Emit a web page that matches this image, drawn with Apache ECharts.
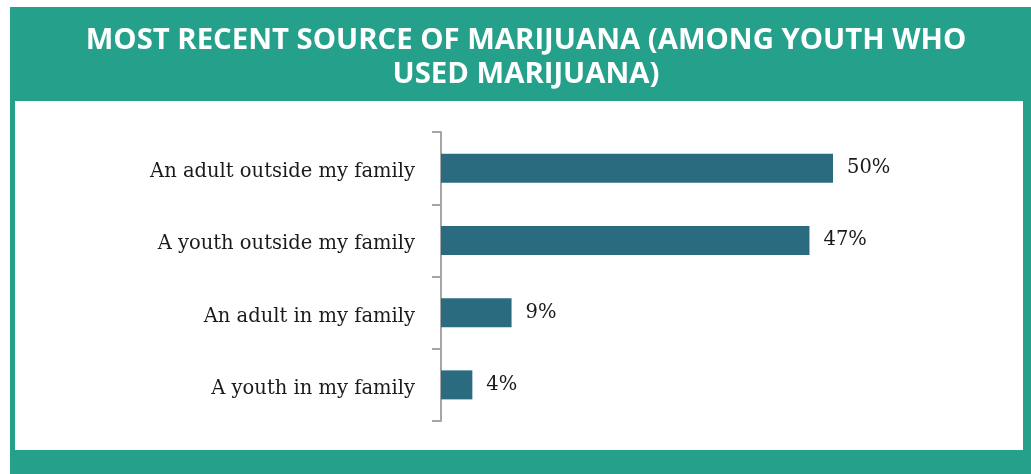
<!DOCTYPE html>
<html>
<head>
<meta charset="utf-8">
<script src="https://cdn.jsdelivr.net/npm/echarts@6/dist/echarts.min.js"></script>
<style>
  html, body { margin: 0; padding: 0; background: #ffffff; }
  #chart { width: 1031px; height: 474px; }
</style>
</head>
<body>
<div id="chart"></div>
<script>
// data
const sources = ['An adult outside my family', 'A youth outside my family', 'An adult in my family', 'A youth in my family']
const shares = [50, 47, 9, 4]

const teal = '#25a08b'
const barColor = '#2a6b80'
const serif = '"DejaVu Serif", "Liberation Serif", serif'

const chart = echarts.init(document.getElementById('chart'))

chart.setOption({
    animation: false,
    backgroundColor: '#ffffff',
    //外框和白色面板
    graphic: [
        { type: 'rect', z: -10, shape: { x: 10, y: 7, width: 1021, height: 467 }, style: { fill: teal } },
        { type: 'rect', z: -9, shape: { x: 15, y: 101, width: 1008, height: 349 }, style: { fill: '#ffffff' } }
    ],
    title: {
        text: 'MOST RECENT SOURCE OF MARIJUANA (AMONG YOUTH WHO\nUSED MARIJUANA)',
        left: 521,
        top: 19,
        textAlign: 'center',
        textStyle: {
            color: '#ffffff',
            fontFamily: '"Open Sans", sans-serif',
            fontWeight: 'bold',
            fontSize: 29.3,
            lineHeight: 34
        }
    },
    grid: { left: 441, top: 132, width: 392, height: 289 },
    xAxis: {
        type: 'value',
        min: 0,
        max: 50,
        show: false
    },
    yAxis: {
        type: 'category',
        data: sources,
        inverse: true,
        axisLine: { show: true, lineStyle: { color: '#a6a6a6', width: 2 } },
        axisTick: { show: true, length: 9, lineStyle: { color: '#a6a6a6', width: 2 } },
        axisLabel: {
            margin: 26,
            formatter: '{a|{value}}',
            rich: {
                a: { color: '#1a1a1a', fontFamily: serif, fontSize: 19.5, padding: [8, 0, 0, 0] }
            }
        }
    },
    series: [
        {
            type: 'bar',
            data: shares,
            barWidth: 29,
            itemStyle: { color: barColor },
            label: {
                show: true,
                position: 'right',
                distance: 14,
                formatter: '{c}%',
                color: '#1a1a1a',
                fontFamily: serif,
                fontSize: 19.5
            }
        }
    ]
})
</script>
</body>
</html>
